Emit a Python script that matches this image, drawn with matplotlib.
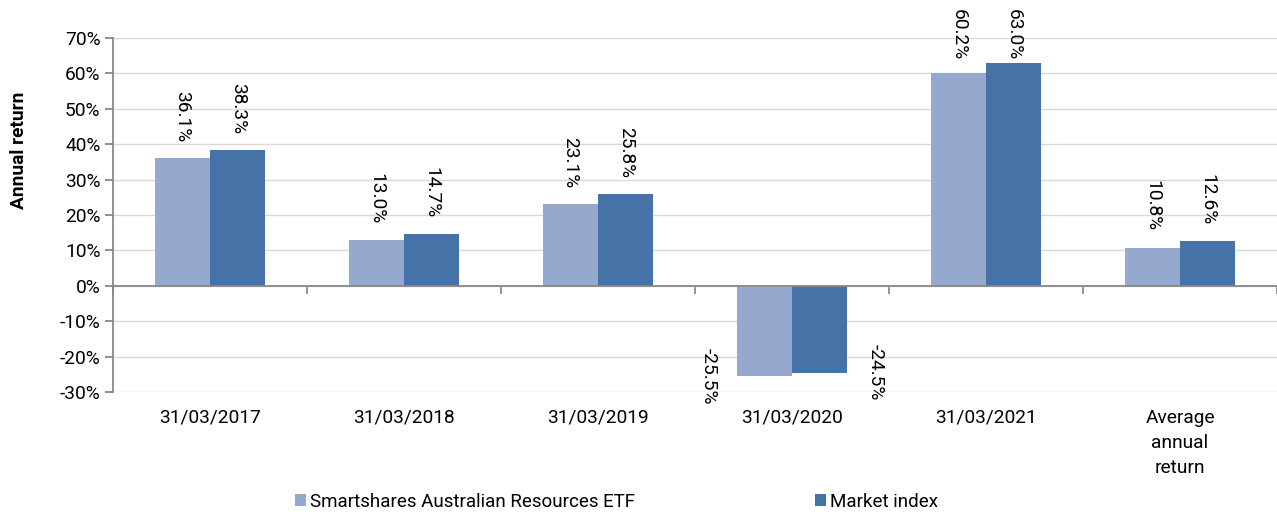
import matplotlib
matplotlib.use("Agg")
import matplotlib.pyplot as plt
import numpy as np
from matplotlib.ticker import FuncFormatter, MultipleLocator

categories = ["31/03/2017", "31/03/2018", "31/03/2019", "31/03/2020", "31/03/2021",
              "Average\nannual\nreturn"]
etf = [36.1, 13.0, 23.1, -25.5, 60.2, 10.8]
market = [38.3, 14.7, 25.8, -24.5, 63.0, 12.6]
series_names = ["Smartshares Australian Resources ETF", "Market index"]

c_light = "#95A9CF"
c_dark = "#4573A7"

plt.rcParams['font.family'] = ['Roboto', 'DejaVu Sans']
fs = 13.8

W, H = 1277, 514
fig = plt.figure(figsize=(W/100, H/100), dpi=100)
ax = fig.add_axes([113/W, 122/H, 1 - 113/W, (392-38)/H])

x = np.arange(len(categories))
w = 0.285
b1 = ax.bar(x - w/2, etf, w, color=c_light, label=series_names[0], zorder=2)
b2 = ax.bar(x + w/2, market, w, color=c_dark, label=series_names[1], zorder=2)

ax.set_xlim(-0.5, len(categories) - 0.5)
ax.set_ylim(-30, 70)
ax.yaxis.set_major_locator(MultipleLocator(10))
ax.yaxis.set_major_formatter(FuncFormatter(lambda v, p: f"{v:.0f}%"))
ax.grid(axis='y', color='#d9d9d9', linewidth=1, zorder=0)
ax.set_axisbelow(True)

for s in ['top', 'right', 'bottom']:
    ax.spines[s].set_visible(False)
ax.spines['left'].set_color('#888888')
ax.spines['left'].set_linewidth(1.3)
ax.tick_params(axis='y', colors='#888888', labelcolor='black', length=6, width=1.3,
               labelsize=fs, pad=3)
ax.set_xticks(x)
ax.set_xticklabels(categories, fontsize=fs, linespacing=1.5)
ax.tick_params(axis='x', length=0, pad=12)

ax.axhline(0, color='#888888', linewidth=1.3, zorder=3)
sec = ax.secondary_xaxis(0.3)
sec.set_xticks(np.arange(len(categories) + 1) - 0.5)
sec.set_xticklabels([])
sec.spines['bottom'].set_visible(False)
sec.tick_params(axis='x', length=6, width=1.3, colors='#888888', direction='out')

ax.set_ylabel("Annual return", fontsize=13.8, fontweight='bold')
ax.yaxis.set_label_coords((28 - 113) / 1164, (392 - 150) / 354)

texts = []
def label(bars, vals, side):
    for bar, v in zip(bars, vals):
        cx = bar.get_x() + bar.get_width()/2
        txt = f"{v:.1f}%"
        if v >= 0:
            t = ax.annotate(txt, (cx, v), xytext=(0, 11.5), textcoords='offset points',
                            rotation=270, ha='center', va='bottom', fontsize=fs)
            texts.append(t)
        else:
            ax.annotate(txt, (cx, v), xytext=(side * 40, 0), textcoords='offset points',
                        rotation=270, ha='center', va='center', fontsize=fs)

label(b1, etf, -1)
label(b2, market, 1)

fig.legend(handles=[b1, b2], labels=series_names, loc='center left', bbox_to_anchor=(295/W, 0.024),
           ncol=2, frameon=False, fontsize=13.5, handlelength=0.6, handleheight=0.6,
           handletextpad=0.2, columnspacing=9.6, borderpad=0, borderaxespad=0)

# keep data labels inside the figure (as the original chart does)
fig.canvas.draw()
r = fig.canvas.get_renderer()
for t in texts:
    bb = t.get_window_extent(r)
    top_px = H - bb.y1
    if top_px < 9:
        dy = (9 - top_px) * 72 / 100
        ox, oy = t.xyann
        t.xyann = (ox, oy - dy)

fig.savefig("out.png", dpi=100)
